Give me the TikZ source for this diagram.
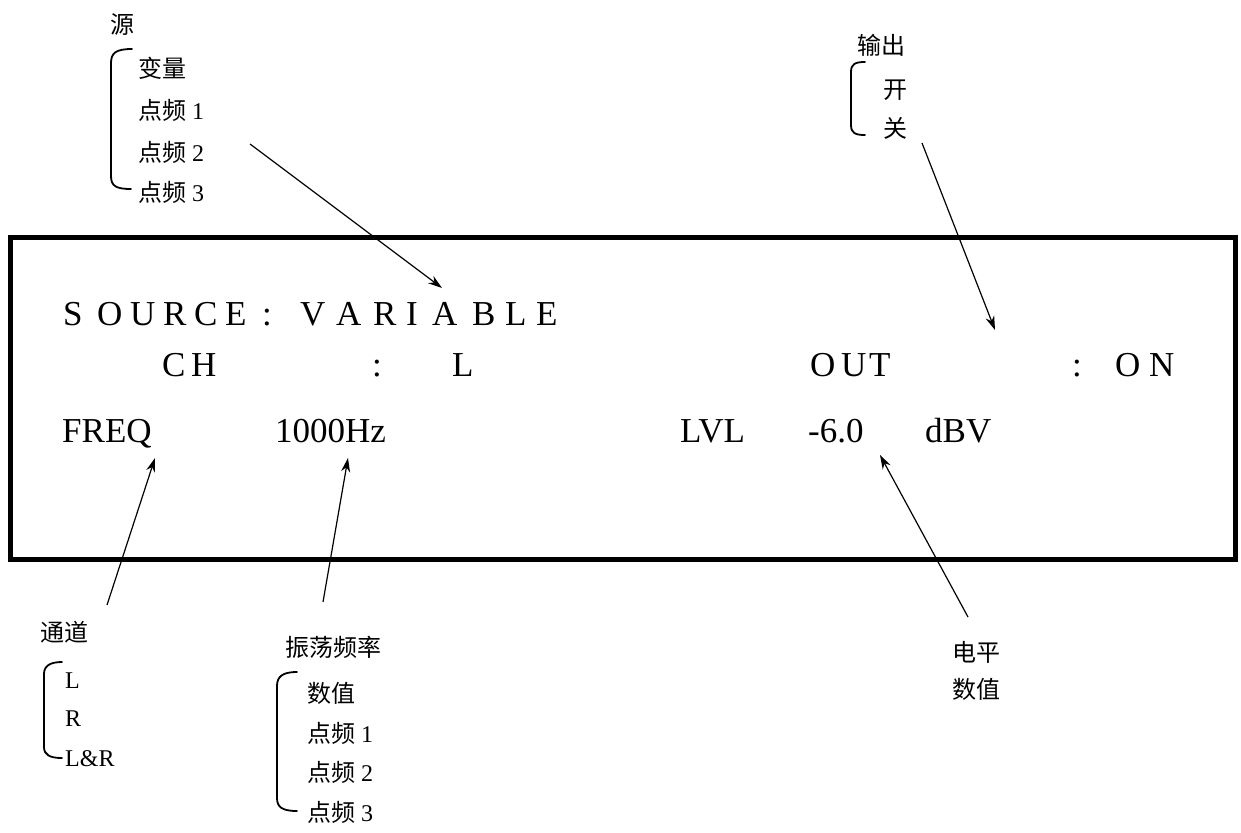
\documentclass[tikz,border=0pt]{standalone}
\usepackage{fontspec}
\setmainfont{Liberation Serif}
\newfontfamily\cjk{Noto Sans CJK SC}
\usetikzlibrary{arrows.meta}
\begin{document}
\begin{tikzpicture}[x=1pt,y=-1pt,
  big/.style={font=\fontsize{35}{35}\selectfont, inner sep=0pt, anchor=base west},
  lab/.style={font=\fontsize{24}{24}\selectfont, inner sep=0pt, anchor=west},
  labc/.style={font=\fontsize{24}{24}\selectfont\cjk, inner sep=0pt},
  arr/.style={-{Stealth[length=14pt,width=9pt]}, line width=1.2pt},
  brk/.style={line width=1.8pt, line cap=round},
  frame/.style={line width=5pt}]
\useasboundingbox (0,0) rectangle (1241,832);
\draw[frame] (10,237) rectangle (1235,559);

% row 1 (letter spaced)
\foreach \x/\c [count=\i] in {63/S,97/O,130/U,163/R,194/C,225/E,262/:,300/V,336/A,373/R,406/I,432/A,472/B,505/L,536/E}
  \node[big] (r1\i) at (\x,325) {\c};
% row 2
\foreach \x/\c [count=\i] in {162/C,191/H,372/:,452/L,810/O,841/U,869/T,1072/:,1115/O,1149/N}
  \node[big] (r2\i) at (\x,376) {\c};
% row 3
\node[big] (freq) at (62,442) {FREQ};
\node[big] (hz) at (275,442) {1000Hz};
\node[big] (lvl) at (680,442) {LVL};
\node[big] (val) at (808,442) {-6.0};
\node[big] (dbv) at (925,442) {dBV};

% source list
\node[labc] (yuan) at (122,25) {源};
\node[lab] (s1) at (138,68) {\cjk 变量};
\node[lab] (s2) at (138,110) {{\cjk 点频} 1};
\node[lab] (s3) at (138,152) {{\cjk 点频} 2};
\node[lab] (s4) at (138,192) {{\cjk 点频} 3};
\draw[brk] (132,49) .. controls (116,49) and (111,53) .. (111,63) -- (111,176) .. controls (111,186) and (116,189) .. (131,189);
\coordinate (a1s) at (250,144);
\coordinate (a1e) at (442,288);
\draw[arr] (a1s) -- (a1e);

% output list
\node[labc] (shuchu) at (881,45) {输出};
\node[lab] (o1) at (883,90) {\cjk 开};
\node[lab] (o2) at (883,128) {\cjk 关};
\draw[brk] (865,62) .. controls (855,62) and (851,64) .. (851,72) -- (851,125) .. controls (851,133) and (855,135) .. (865,135);
\coordinate (a2s) at (922,143);
\coordinate (a2e) at (995,330);
\draw[arr] (a2s) -- (a2e);

% channel list
\node[labc] (tongdao) at (64,632) {通道};
\node[lab] (c1) at (65,681) {L};
\node[lab] (c2) at (65,719) {R};
\node[lab] (c3) at (65,759) {L\&R};
\draw[brk] (62,662) .. controls (50,662) and (44,666) .. (44,674) -- (44,747) .. controls (44,755) and (50,758) .. (62,758);
\coordinate (a3s) at (107,605);
\coordinate (a3e) at (155,458);
\draw[arr] (a3s) -- (a3e);

% frequency list
\node[labc] (zhendang) at (333,647) {振荡频率};
\node[lab] (f1) at (307,693) {\cjk 数值};
\node[lab] (f2) at (307,733) {{\cjk 点频} 1};
\node[lab] (f3) at (307,772) {{\cjk 点频} 2};
\node[lab] (f4) at (307,812) {{\cjk 点频} 3};
\draw[brk] (297,672) .. controls (282,672) and (277,677) .. (277,686) -- (277,798) .. controls (277,807) and (282,811) .. (297,811);
\coordinate (a4s) at (323,602);
\coordinate (a4e) at (348,458);
\draw[arr] (a4s) -- (a4e);

% level
\node[labc] (dianping) at (976,652) {电平};
\node[labc] (shuzhi) at (976,689) {数值};
\coordinate (a5s) at (968,617);
\coordinate (a5e) at (880,455);
\draw[arr] (a5s) -- (a5e);
\end{tikzpicture}
\end{document}
